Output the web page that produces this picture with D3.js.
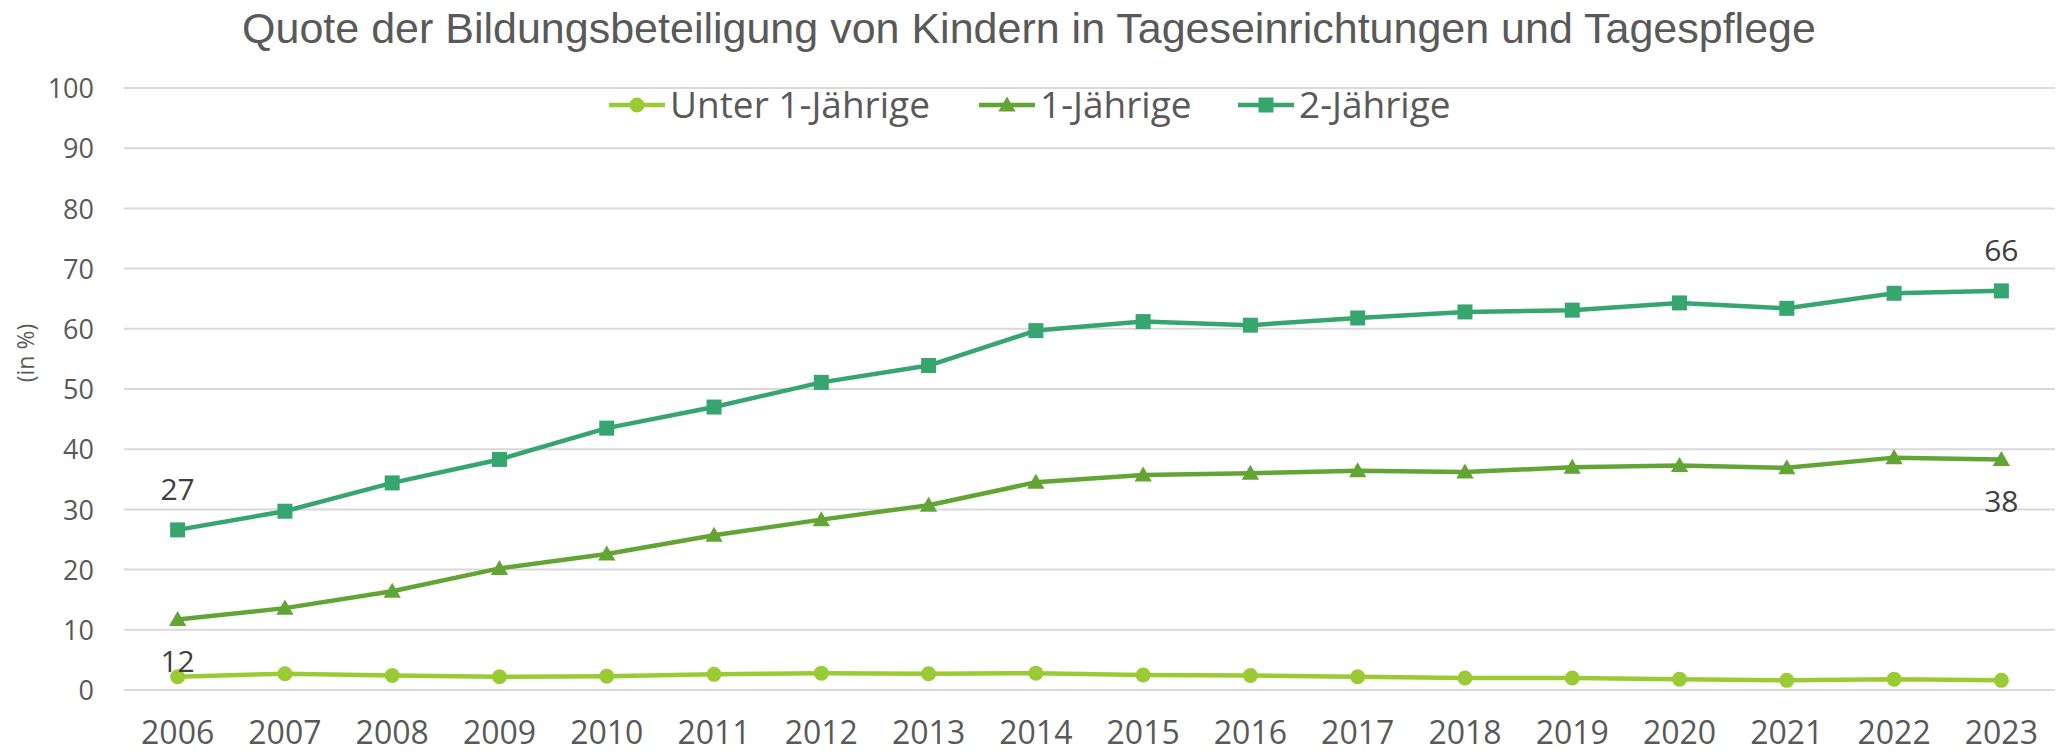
<!DOCTYPE html>
<html><head><meta charset="utf-8">
<script src="https://cdn.jsdelivr.net/npm/d3@7"></script>
<style>body{margin:0;background:#fff}svg{display:block}</style>
</head><body>
<script>
const years = ["2006","2007","2008","2009","2010","2011","2012","2013","2014","2015","2016","2017","2018","2019","2020","2021","2022","2023"];
const unter1 = [2.2,2.7,2.4,2.2,2.3,2.6,2.8,2.7,2.8,2.5,2.4,2.2,2.0,2.0,1.8,1.6,1.8,1.6];
const einJ = [11.7,13.6,16.4,20.2,22.6,25.7,28.3,30.7,34.5,35.7,36.0,36.4,36.2,37.0,37.3,36.9,38.6,38.3];
const zweiJ = [26.6,29.7,34.4,38.3,43.5,47.0,51.1,53.9,59.7,61.2,60.6,61.8,62.8,63.1,64.3,63.4,65.9,66.3];
const seriesNames = ["Unter 1-Jährige","1-Jährige","2-Jährige"];
const yTicks = [0,10,20,30,40,50,60,70,80,90,100];
const title = "Quote der Bildungsbeteiligung von Kindern in Tageseinrichtungen und Tagespflege";
const yTitle = "(in %)";
// labels: [seriesIndex, yearIndex, text, position]
const dataLabels = [[2,0,"27","above"],[1,0,"12","below"],[2,17,"66","above"],[1,17,"38","below"]];

const W = 2064, H = 754;
const colors = ["#9ACB34","#62A535","#36A56F"];
const symbols = [d3.symbolCircle, d3.symbolTriangle, d3.symbolSquare];
const symSizes = [177, 130, 225];
const series = [unter1, einJ, zweiJ];

const svg = d3.select("body").append("svg").attr("width", W).attr("height", H);
const x = d3.scaleBand().domain(years).range([124, 2055]);
const y = d3.scaleLinear().domain([0,100]).range([690, 88]);
const cx = d => x(d) + x.bandwidth()/2;

// gridlines
svg.append("g").selectAll("line").data(yTicks).join("line")
  .attr("x1", 124).attr("x2", 2055).attr("y1", d=>y(d)).attr("y2", d=>y(d))
  .attr("stroke", "#D9D9D9").attr("stroke-width", 2);

// y axis
const yAxis = svg.append("g").attr("transform","translate(94,0)")
  .call(d3.axisLeft(y).tickValues(yTicks).tickSize(0).tickPadding(0));
yAxis.select(".domain").remove();
yAxis.selectAll("text").attr("font-family","Open Sans").attr("font-size",27).attr("fill","#595959").attr("dy","0.36em");

// x axis
const xAxis = svg.append("g").attr("transform","translate(0,690)")
  .call(d3.axisBottom(x).tickSize(0).tickPadding(0));
xAxis.select(".domain").remove();
xAxis.selectAll("text").attr("font-family","Open Sans").attr("font-size",32).attr("fill","#595959").attr("y",54).attr("dy",0);

// y title
svg.append("text").attr("transform","translate(34,353) rotate(-90)").attr("text-anchor","middle")
  .attr("font-family","Open Sans").attr("font-size",23).attr("fill","#595959").text(yTitle);

// title
svg.append("text").attr("x", 1029).attr("y", 43).attr("text-anchor","middle")
  .attr("font-family","Liberation Sans").attr("font-size",43).attr("fill","#595959").text(title);

// lines
const line = d3.line().x((d,i)=>cx(years[i])).y(d=>y(d));
series.forEach((s,k)=>{
  svg.append("path").datum(s).attr("d", line).attr("fill","none")
    .attr("stroke", colors[k]).attr("stroke-width", 4.5).attr("stroke-linejoin","round");
  svg.append("g").selectAll("path").data(s).join("path")
    .attr("transform",(d,i)=>`translate(${cx(years[i])},${y(d) + (k===1?1.5:0)})`)
    .attr("d", d3.symbol().type(symbols[k]).size(symSizes[k]))
    .attr("fill", colors[k]);
});

// data labels
dataLabels.forEach(([si, yi, t, pos])=>{
  const v = series[si][yi];
  svg.append("text").attr("x", cx(years[yi])).attr("y", y(v) + (pos==="above" ? -41 : 42))
    .attr("dy","0.36em").attr("text-anchor","middle")
    .attr("font-family","Open Sans").attr("font-size",30).attr("fill","#404040").text(t);
});

// legend
const legX = [609, 979, 1238];
const lg = svg.append("g");
seriesNames.forEach((n,k)=>{
  const g = lg.append("g").attr("transform",`translate(${legX[k]},105)`);
  g.append("line").attr("x1",0).attr("x2",56).attr("y1",0).attr("y2",0).attr("stroke",colors[k]).attr("stroke-width",4.5);
  g.append("path").attr("transform",`translate(28,${k===1?1.5:0})`).attr("d", d3.symbol().type(symbols[k]).size(symSizes[k])).attr("fill",colors[k]);
  g.append("text").attr("x",61).attr("y",0).attr("dy","0.36em").attr("font-family","Open Sans").attr("font-size",37).attr("fill","#595959").text(n);
});
</script>
</body></html>
